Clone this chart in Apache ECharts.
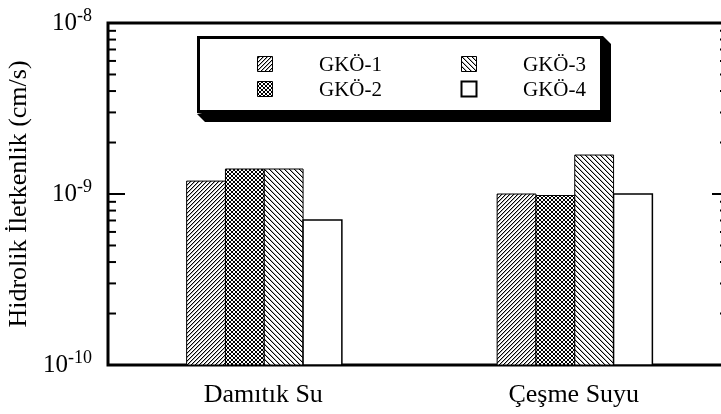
<!DOCTYPE html>
<html>
<head>
<meta charset="utf-8">
<script src="https://cdn.jsdelivr.net/npm/echarts@6/dist/echarts.min.js"></script>
<style>
  html, body { margin: 0; padding: 0; background: #fff; }
  #chart { width: 721px; height: 414px; }
</style>
</head>
<body>
<div id="chart"></div>
<script>
// Hydraulic conductivity (cm/s) per liquid, one array per sample
const categories = ['Damıtık Su', 'Çeşme Suyu'];
const seriesNames = ['GKÖ-1', 'GKÖ-2', 'GKÖ-3', 'GKÖ-4'];
const gko1 = [1.19e-9, 1.00e-9];
const gko2 = [1.40e-9, 0.98e-9];
const gko3 = [1.40e-9, 1.69e-9];
const gko4 = [7.05e-10, 1.00e-9];
const yMin = 1e-10;
const yMax = 1e-8;
// minor tick values between the decades
const minorTicks = [2e-10, 3e-10, 4e-10, 5e-10, 6e-10, 7e-10, 8e-10, 9e-10,
                    2e-9, 3e-9, 4e-9, 5e-9, 6e-9, 7e-9, 8e-9, 9e-9];

const values = [gko1, gko2, gko3, gko4];
const FONT = "'Liberation Serif', 'Times New Roman', serif";

// small pixel tiles used as hatch fills
function tile(size, paint) {
  const c = document.createElement('canvas');
  c.width = c.height = size;
  const g = c.getContext('2d');
  g.fillStyle = '#fff';
  g.fillRect(0, 0, size, size);
  for (let y = 0; y < size; y++) {
    for (let x = 0; x < size; x++) {
      const p = paint(x, y);
      if (p) { g.fillStyle = p; g.fillRect(x, y, 1, 1); }
    }
  }
  return c;
}
const mod = (a, n) => ((a % n) + n) % n;
const fills = [
  { image: tile(4, (x, y) => mod(x + y, 4) === 3 ? '#000' : (mod(x + y, 4) === 0 ? '#b0b0b0' : null)), repeat: 'repeat' },
  { image: tile(4, (x, y) => (x === y || x + y === 3) ? '#000' : null), repeat: 'repeat' },
  { image: tile(5, (x, y) => mod(x - y, 5) === 0 ? '#000' : (mod(x - y, 5) === 1 ? '#b0b0b0' : null)), repeat: 'repeat' },
  '#fff'
];

function barSeries(i) {
  return {
    type: 'custom',
    name: seriesNames[i],
    data: categories.map((c, k) => [k, values[i][k]]),
    encode: { x: 0, y: 1 },
    z: 2,
    renderItem(params, api) {
      const cs = params.coordSys;
      const band = cs.width / categories.length;
      const bw = band * 0.125;
      const top = api.coord([api.value(0), api.value(1)]);
      const base = api.coord([api.value(0), yMin]);
      const x = top[0] - 2 * bw + i * bw + 1;
      return {
        type: 'rect',
        shape: { x: x, y: top[1], width: bw, height: base[1] - top[1] },
        style: { fill: fills[i], stroke: '#000', lineWidth: i === 3 ? 1.5 : 1 }
      };
    }
  };
}

const minorTickSeries = {
  type: 'custom',
  data: minorTicks.map(v => [0, v]),
  encode: { x: 0, y: 1 },
  silent: true,
  clip: false,
  z: 5,
  renderItem(params, api) {
    const cs = params.coordSys;
    const y = api.coord([0, api.value(1)])[1];
    return {
      type: 'group',
      children: [
        { type: 'line', shape: { x1: cs.x, y1: y, x2: cs.x + 8, y2: y }, style: { stroke: '#000', lineWidth: 2 } },
        { type: 'line', shape: { x1: cs.x + cs.width - 9, y1: y, x2: cs.x + cs.width, y2: y }, style: { stroke: '#000', lineWidth: 2 } }
      ]
    };
  }
};

// legend box with drop shadow
const legendItems = [
  { i: 0, x: 257, y: 56 },
  { i: 1, x: 257, y: 81 },
  { i: 2, x: 461, y: 56 },
  { i: 3, x: 461, y: 81 }
];
const legendGraphics = [
  { type: 'polygon', shape: { points: [[603, 36], [611, 44], [611, 122], [205, 122], [197, 114]] }, style: { fill: '#000' }, z: 10 },
  { type: 'rect', shape: { x: 198.5, y: 37.5, width: 403, height: 74 }, style: { fill: '#fff', stroke: '#000', lineWidth: 3 }, z: 11 }
];
legendItems.forEach(it => {
  legendGraphics.push({
    type: 'rect', z: 12,
    shape: { x: it.x + 0.5, y: it.y + 0.5, width: 15, height: 15 },
    style: { fill: fills[it.i], stroke: '#000', lineWidth: it.i === 3 ? 2 : 1 }
  });
  legendGraphics.push({
    type: 'text', z: 12,
    x: it.x + 62, y: it.y + 9,
    style: { text: seriesNames[it.i], fontSize: 21, fontFamily: FONT, fill: '#000', verticalAlign: 'middle' }
  });
});

const tickStyle = { show: true, inside: true, length: 17, lineStyle: { color: '#000', width: 2 } };

const option = {
  animation: false,
  backgroundColor: '#fff',
  grid: {
    left: 108, top: 23, width: 621, height: 342,
    show: true, borderColor: '#000', borderWidth: 3, backgroundColor: 'transparent',
    containLabel: false, outerBoundsMode: 'none'
  },
  xAxis: {
    type: 'category',
    data: categories,
    axisLine: { show: false },
    axisTick: { show: false },
    splitLine: { show: false },
    axisLabel: { color: '#000', fontFamily: FONT, fontSize: 26, margin: 17 }
  },
  yAxis: [
    {
      type: 'log', logBase: 10, min: yMin, max: yMax,
      name: 'Hidrolik İletkenlik (cm/s)',
      nameLocation: 'middle', nameGap: 66,
      nameTextStyle: { color: '#000', fontFamily: FONT, fontSize: 26 },
      axisLine: { show: false },
      axisTick: tickStyle,
      splitLine: { show: false },
      minorTick: { show: false },
      axisLabel: {
        margin: 16,
        formatter: v => '{b|10}{s|' + Math.round(Math.log10(v)) + '}',
        rich: {
          b: { fontSize: 25, fontFamily: FONT, color: '#000', lineHeight: 32 },
          s: { fontSize: 18, fontFamily: FONT, color: '#000', lineHeight: 17, verticalAlign: 'top' }
        }
      }
    },
    {
      type: 'log', logBase: 10, min: yMin, max: yMax, position: 'right',
      axisLine: { show: false },
      axisTick: tickStyle,
      splitLine: { show: false },
      axisLabel: { show: false }
    }
  ],
  series: [barSeries(0), barSeries(1), barSeries(2), barSeries(3), minorTickSeries],
  graphic: legendGraphics
};

const chart = echarts.init(document.getElementById('chart'), null, { renderer: 'canvas' });
chart.setOption(option);
</script>
</body>
</html>
